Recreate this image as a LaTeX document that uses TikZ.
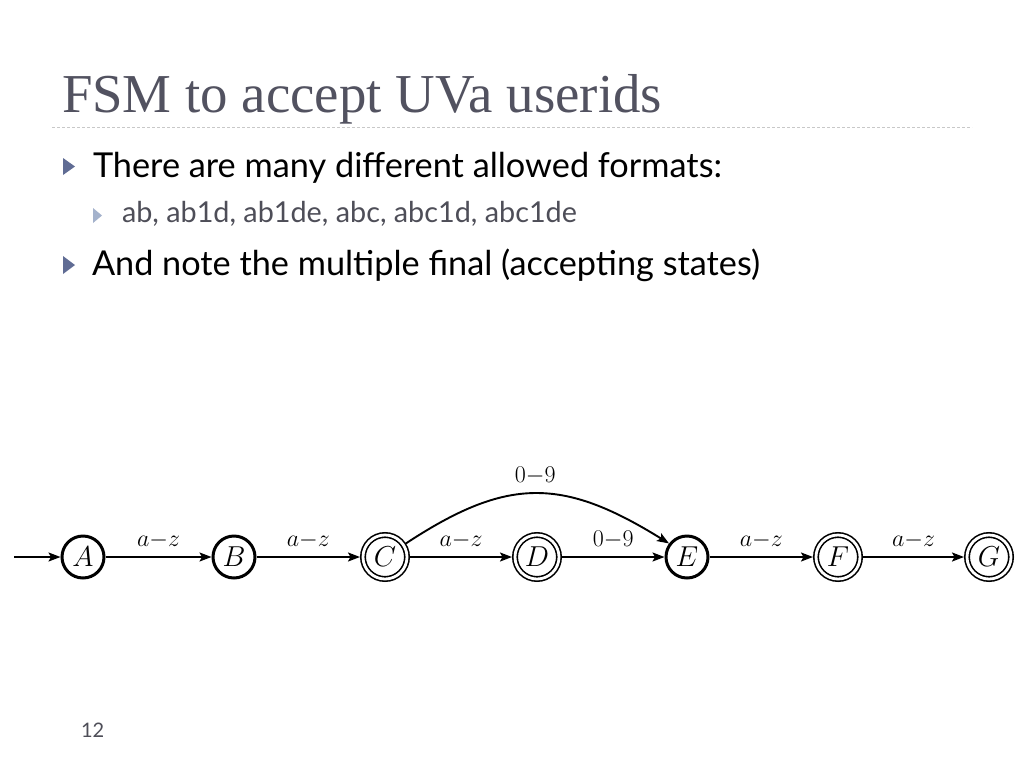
\RequirePackage{fix-cm}
\documentclass[tikz,border=0pt]{standalone}
\usepackage{fontspec}
\newfontfamily\titlefont{Liberation Serif}
\newfontfamily\bodyfont{Lato}
\usetikzlibrary{arrows.meta}
\definecolor{titlegray}{RGB}{82,82,96}
\definecolor{subgray}{RGB}{78,78,88}
\definecolor{rulegray}{RGB}{200,200,200}
\definecolor{bulletdark}{RGB}{96,108,148}
\definecolor{bulletlight}{RGB}{164,178,204}
\newcommand\stname[1]{\scalebox{1.2}{$#1$}}
\begin{document}
\begin{tikzpicture}[x=1pt,y=-1pt,
  txt/.style={anchor=base west, inner sep=0pt, outer sep=0pt},
  plainst/.style={circle, draw, line width=3pt, minimum size=42pt, inner sep=0pt, outer sep=1.5pt, font=\fontsize{24}{26}\selectfont},
  finalst/.style={circle, draw, line width=1.6pt, double, double distance=2.8pt, minimum size=44pt, inner sep=0pt, outer sep=3pt, font=\fontsize{24}{26}\selectfont},
  trans/.style={-{Stealth[length=12pt,width=9pt,inset=2.5pt]}, line width=1.9pt},
  lbl/.style={above=8pt, inner sep=0pt, font=\fontsize{24}{26}\selectfont}]
\useasboundingbox[fill=white] (0,0) rectangle (1024,768);
% title and rule
\node[txt, text=titlegray] (title) at (62,112) {\resizebox{600pt}{!}{\titlefont\fontsize{52}{56}\selectfont FSM to accept UVa userids}};
\draw[rulegray, line width=1pt, dash pattern=on 3pt off 2pt] (52,127.5) -- (972,127.5);
% bullets
\fill[bulletdark] (63,158) -- (75,166.5) -- (63,175) -- cycle;
\fill[bulletlight] (93,208) -- (102,215.5) -- (93,223) -- cycle;
\fill[bulletdark] (63,256) -- (75,265) -- (63,274) -- cycle;
\node[txt] (l1) at (93,177) {\resizebox{629pt}{!}{\bodyfont\fontsize{31}{34}\selectfont There are many different allowed formats:}};
\node[txt, text=subgray] (l2) at (122,222) {\resizebox{455pt}{!}{\bodyfont\fontsize{26}{30}\selectfont ab, ab1d, ab1de, abc, abc1d, abc1de}};
\node[txt] (l3) at (92,275) {\resizebox{668pt}{!}{\bodyfont\fontsize{31}{34}\selectfont And note the multiple final (accepting states)}};
\node[txt, text=subgray] (pg) at (81,737) {\bodyfont\fontsize{20}{22}\selectfont 12};
% automaton
\node[plainst] (A) at (83,557) {\stname{A}};
\node[plainst] (B) at (234,557) {\stname{B}};
\node[finalst] (C) at (385,557) {\stname{C}};
\node[finalst] (D) at (537,557) {\stname{D}};
\node[plainst] (E) at (687,557) {\stname{E}};
\node[finalst] (F) at (838,557) {\stname{F}};
\node[finalst] (G) at (989,557) {\stname{G}};
\coordinate (start) at (14,557);
\draw[trans] (start) -- (A);
\draw[trans] (A) -- node[lbl] {$a{-}z$} (B);
\draw[trans] (B) -- node[lbl] {$a{-}z$} (C);
\draw[trans] (C) -- node[lbl] {$a{-}z$} (D);
\draw[trans] (D) -- node[lbl] {$0{-}9$} (E);
\draw[trans] (E) -- node[lbl] {$a{-}z$} (F);
\draw[trans] (F) -- node[lbl] {$a{-}z$} (G);
\draw[trans] (C.33) .. controls (507,477) and (562,477) .. (E.143) node[lbl, pos=0.5] {$0{-}9$};
\end{tikzpicture}
\end{document}
